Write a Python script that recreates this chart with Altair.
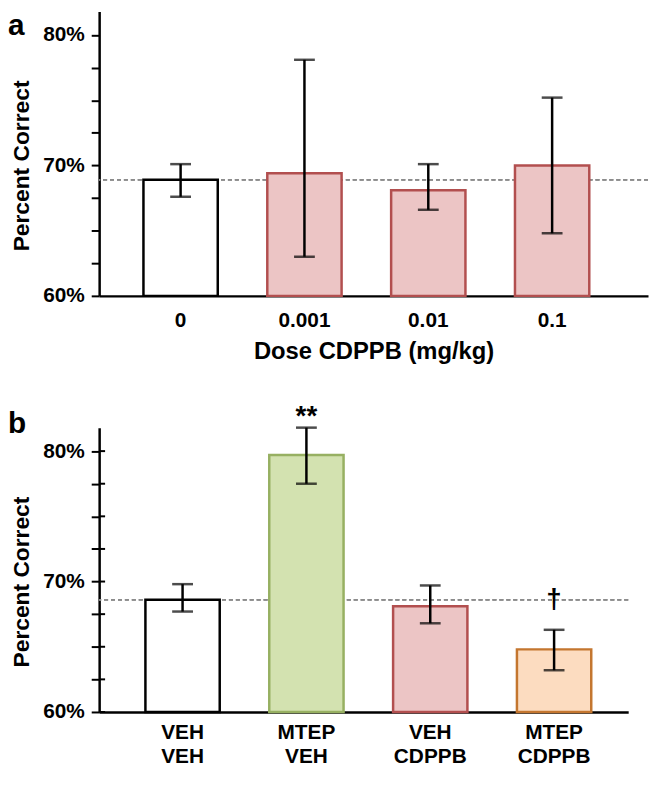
import altair as alt
import pandas as pd

# ---------------- data ----------------
# Panel a: dose response of CDPPB
doses = ["0", "0.001", "0.01", "0.1"]
dose_mean = [68.9, 69.4, 68.1, 70.0]
dose_low = [67.6, 63.0, 66.6, 64.8]
dose_high = [70.1, 78.1, 70.1, 75.2]
dose_fill = ["#ffffff", "#ecc5c5", "#ecc5c5", "#ecc5c5"]
dose_stroke = ["#000000", "#b24f4f", "#b24f4f", "#b24f4f"]
dose_control = 68.9

# Panel b: MTEP / CDPPB combinations
groups = ["VEH\nVEH", "MTEP\nVEH", "VEH\nCDPPB", "MTEP\nCDPPB"]
group_mean = [68.6, 79.7, 68.1, 64.8]
group_low = [67.7, 77.5, 66.8, 63.2]
group_high = [69.8, 81.8, 69.7, 66.3]
group_fill = ["#ffffff", "#d3e2b0", "#ecc5c5", "#fcdcc0"]
group_stroke = ["#000000", "#97b062", "#b24f4f", "#c4762f"]
group_control = 68.6
sig_group = ["MTEP\nVEH", "MTEP\nCDPPB"]
sig_text = ["**", "\u2020"]
sig_y = [82.6, 68.6]

y_ticks = [60, 62.5, 65, 67.5, 70, 72.5, 75, 77.5, 80]
y_min, y_max = 60, 81.8
H = 287
FONT = "Liberation Sans"


def panel(cats, mean, low, high, fill, stroke, control, letter, letter_y,
          width, pad_outer, align, x_title, label_pad, inner_ticks=False,
          sig=None):
    df = pd.DataFrame({"cat": cats, "mean": mean, "low": low, "high": high})
    yscale = alt.Scale(domain=[y_min, y_max], nice=False, zero=False)
    yaxis = alt.Axis(
        values=y_ticks,
        labelExpr="datum.value % 10 == 0 ? datum.value + '%' : ''",
        title="Percent Correct", titleFontSize=23, labelFontSize=21,
        tickSize=8, labelPadding=7, titlePadding=9,
        titleY=H * (y_max - 70) / (y_max - y_min),
        domainWidth=2.5, tickWidth=2, grid=False,
    )
    xaxis = alt.Axis(
        title=x_title, ticks=False, labelAngle=0, labelFontSize=21,
        labelPadding=label_pad, labelLineHeight=24,
        labelExpr="split(datum.label, '\\n')",
        titleFontSize=24, titlePadding=9, domainWidth=2.5, grid=False,
    )
    x = alt.X("cat:N", sort=cats,
              scale=alt.Scale(paddingInner=0.4, paddingOuter=pad_outer, align=align),
              axis=xaxis)

    def Y(field):
        return alt.Y(field, type="quantitative", scale=yscale, axis=yaxis)

    base = alt.Chart(df)
    ref = base.mark_rule(color="#8c8c8c", strokeDash=[4, 3], strokeWidth=1.2).encode(
        y=alt.Y(datum=control, type="quantitative", scale=yscale, axis=yaxis)
    )
    bars = base.mark_bar(strokeWidth=2.5).encode(
        x=x,
        y=Y("mean"),
        y2=alt.datum(y_min),
        fill=alt.Fill("cat:N", scale=alt.Scale(domain=cats, range=fill), legend=None),
        stroke=alt.Stroke("cat:N", scale=alt.Scale(domain=cats, range=stroke), legend=None),
    )
    err = base.mark_rule(color="black", strokeWidth=2.5).encode(
        x=x, y=Y("low"), y2="high"
    )
    cap_lo = base.mark_tick(color="black", size=21, thickness=2.5).encode(x=x, y=Y("low"))
    cap_hi = base.mark_tick(color="black", size=21, thickness=2.5).encode(x=x, y=Y("high"))
    lab = alt.Chart(pd.DataFrame({"t": [letter]})).mark_text(
        align="left", baseline="alphabetic", fontSize=30, fontWeight="bold",
        font=FONT, color="black"
    ).encode(text="t:N", x=alt.value(-92), y=alt.value(letter_y))

    layers = [ref, bars, err, cap_lo, cap_hi]
    if inner_ticks:
        tdf = pd.DataFrame({"v": y_ticks})
        layers.append(
            alt.Chart(tdf).mark_rule(color="black", strokeWidth=2).encode(
                y=Y("v"), x=alt.value(0), x2=alt.value(6)
            )
        )
    if sig is not None:
        sdf = pd.DataFrame({"cat": sig[0], "txt": sig[1], "yy": sig[2]})
        layers.append(
            alt.Chart(sdf).mark_text(
                fontSize=28, fontWeight="bold", font=FONT, color="black",
                baseline="middle", align="center"
            ).encode(x=x, y=Y("yy"), text="txt:N")
        )
    layers.append(lab)
    return alt.layer(*layers).properties(width=width, height=H)


top = panel(doses, dose_mean, dose_low, dose_high, dose_fill, dose_stroke,
            dose_control, "a", 24, 554, 0.416, 0.43, "Dose CDPPB (mg/kg)", 14)
bottom = panel(groups, group_mean, group_low, group_high, group_fill, group_stroke,
               group_control, "b", 5, 534, 0.336, 0.556, None, 10,
               inner_ticks=True, sig=(sig_group, sig_text, sig_y))

chart = alt.vconcat(top, bottom, spacing=133, bounds="flush").resolve_scale(
    fill="independent", stroke="independent"
).properties(
    padding={"left": 0, "top": 0, "right": 0, "bottom": 0}
).configure_view(stroke=None).configure_axis(
    labelFont=FONT, titleFont=FONT, labelFontWeight="bold", titleFontWeight="bold",
    labelColor="black", titleColor="black", domainColor="black", tickColor="black",
)

chart.save("out.html", embed_options={"renderer": "svg", "actions": False})
